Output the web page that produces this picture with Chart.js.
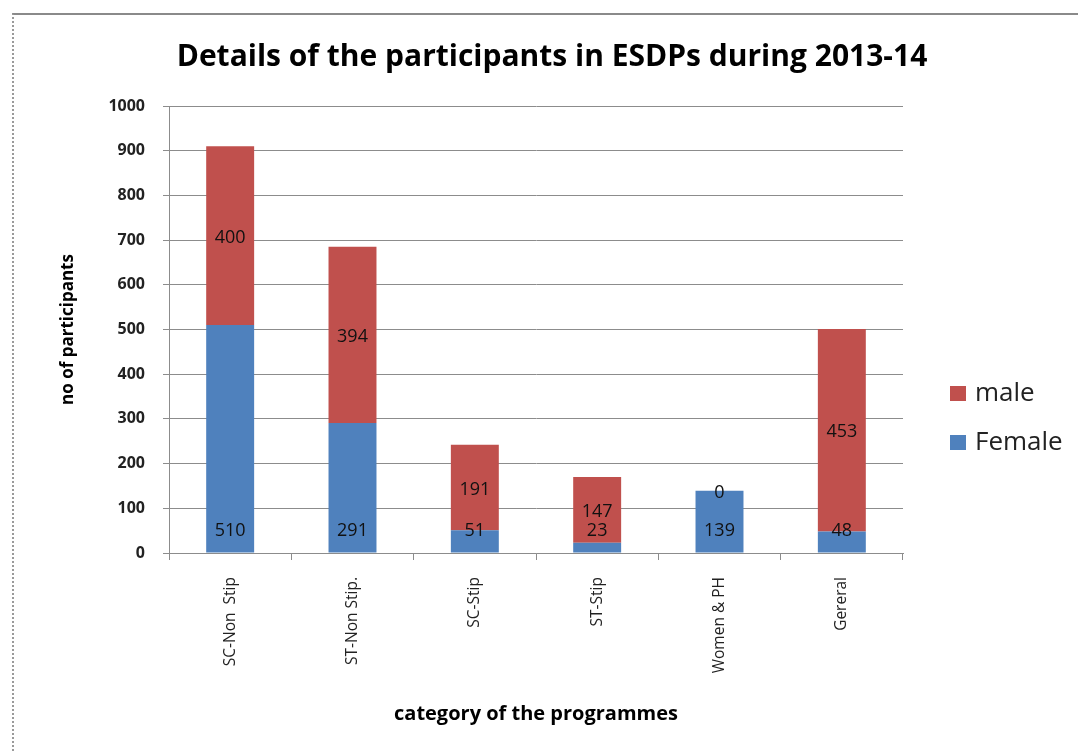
<!DOCTYPE html>
<html>
<head>
<meta charset="utf-8">
<script src="https://cdn.jsdelivr.net/npm/chart.js@4.4.1/dist/chart.umd.min.js"></script>
<style>
  html, body { margin: 0; padding: 0; background: #fff; }
  #wrap { position: relative; width: 1078px; height: 751px; overflow: hidden; }
  #frame { position: absolute; left: 12px; top: 13px; width: 1100px; height: 800px;
           border-top: 2px solid #8a8a8a; border-left: 2px dotted #9a9a9a; }
  #c { position: absolute; left: 0; top: 0; }
</style>
</head>
<body>
<div id="wrap">
  <div id="frame"></div>
  <canvas id="c" width="1078" height="751"></canvas>
</div>
<script>
const categories = ['SC-Non  Stip', 'ST-Non Stip.', 'SC-Stip', 'ST-Stip', 'Women & PH', 'Gereral'];
const female = [510, 291, 51, 23, 139, 48];
const male = [400, 394, 191, 147, 0, 453];
const yTicks = [0, 100, 200, 300, 400, 500, 600, 700, 800, 900, 1000];

const FONT = "'Open Sans', 'DejaVu Sans', sans-serif";
const GRID = '#8c8c8c';

// etiquetas de valor e legenda desenhadas à mão
const labelsPlugin = {
  id: 'valueLabels',
  afterDatasetsDraw(chart) {
    const ctx = chart.ctx;
    const base = chart.scales.y.getPixelForValue(0);
    ctx.save();
    ctx.font = '18px ' + FONT;
    ctx.fillStyle = '#111';
    ctx.textAlign = 'center';
    ctx.textBaseline = 'middle';
    chart.data.datasets.forEach((ds, i) => {
      chart.getDatasetMeta(i).data.forEach((bar, j) => {
        const y = ds.label === 'Female' ? base - 22 : (bar.y + bar.base) / 2 + 2;
        ctx.fillText(String(ds.data[j]), bar.x, y);
      });
    });
    ctx.restore();
  },
  afterDraw(chart) {
    const ctx = chart.ctx;
    const items = chart.data.datasets.slice().reverse();
    ctx.save();
    ctx.font = '26px ' + FONT;
    ctx.textBaseline = 'middle';
    items.forEach((ds, k) => {
      const cy = 394 + k * 49;
      ctx.fillStyle = ds.backgroundColor;
      ctx.fillRect(950, cy - 8, 16, 15);
      ctx.fillStyle = '#222';
      ctx.fillText(ds.label, 975, cy);
    });
    ctx.restore();
  }
};

new Chart(document.getElementById('c').getContext('2d'), {
  type: 'bar',
  data: {
    labels: categories,
    datasets: [
      { label: 'Female', data: female, backgroundColor: '#4f81bd', categoryPercentage: 1, barPercentage: 0.392 },
      { label: 'male', data: male, backgroundColor: '#c0504d', categoryPercentage: 1, barPercentage: 0.392 }
    ]
  },
  options: {
    responsive: false,
    animation: false,
    events: [],
    layout: { padding: { left: 26, right: 0, top: 0, bottom: 0 } },
    plugins: {
      legend: { display: false },
      tooltip: { enabled: false },
      title: {
        display: true,
        text: 'Details of the participants in ESDPs during 2013-14',
        color: '#000',
        font: { family: FONT, size: 30, weight: 'bold' },
        padding: { top: 39, bottom: 31 }
      }
    },
    scales: {
      x: {
        stacked: true,
        afterFit: s => { s.height = 198; },
        grid: { display: true, drawOnChartArea: false, tickLength: 7, color: GRID },
        border: { color: GRID },
        ticks: {
          color: '#222', padding: 17, minRotation: 90, maxRotation: 90, autoSkip: false,
          font: { family: FONT, size: 15.5 }
        },
        title: {
          display: true, text: 'category of the programmes', color: '#000',
          font: { family: FONT, size: 20, weight: 'bold' },
          padding: { top: 0, bottom: 25 }
        }
      },
      y: {
        stacked: true,
        min: 0, max: 1000,
        afterFit: s => { s.width = 143; },
        afterBuildTicks: s => { s.ticks = yTicks.map(v => ({ value: v })); },
        grid: { color: GRID, tickLength: 6 },
        border: { color: GRID },
        ticks: {
          color: '#222', padding: 18, font: { family: FONT, size: 16, weight: 'bold' },
          callback: v => String(v)
        },
        title: {
          display: true, text: 'no of participants', color: '#000',
          font: { family: FONT, size: 17, weight: 'bold' },
          padding: { top: 32, bottom: 0 }
        }
      },
      spacer: {
        type: 'linear', position: 'right', display: true,
        afterFit: s => { s.width = 175; },
        grid: { display: false }, border: { display: false }, ticks: { display: false }
      }
    }
  },
  plugins: [labelsPlugin]
});
</script>
</body>
</html>
